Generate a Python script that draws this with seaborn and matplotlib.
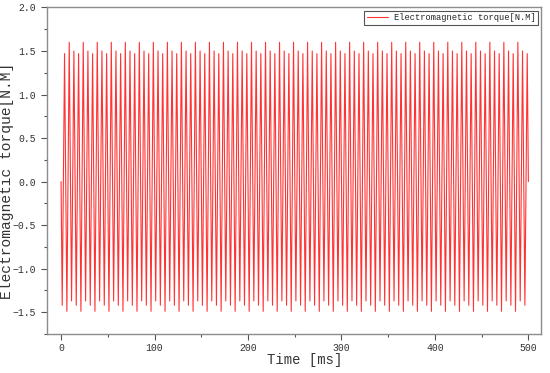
import numpy as np
import pandas as pd
import seaborn as sns
import matplotlib.pyplot as plt
from matplotlib.ticker import MultipleLocator

# one trough and one peak per 5 ms cycle, 100 cycles over 0-500 ms
cycle_ms = 5.0
n_cycles = 100

trough_values = [
    -1.42, -1.49, -1.37, -1.42, -1.49, -1.37, -1.42, -1.49, -1.37, -1.42, -1.49, -1.37,
    -1.42, -1.49, -1.37, -1.42, -1.49, -1.37, -1.42, -1.49, -1.37, -1.42, -1.49, -1.37,
    -1.42, -1.49, -1.37, -1.42, -1.49, -1.37, -1.42, -1.49, -1.37, -1.42, -1.49, -1.37,
    -1.42, -1.49, -1.37, -1.42, -1.49, -1.37, -1.42, -1.49, -1.37, -1.42, -1.49, -1.37,
    -1.42, -1.49, -1.37, -1.42, -1.49, -1.37, -1.42, -1.49, -1.37, -1.42, -1.49, -1.37,
    -1.42, -1.49, -1.37, -1.42, -1.49, -1.37, -1.42, -1.49, -1.37, -1.42, -1.49, -1.37,
    -1.42, -1.49, -1.37, -1.42, -1.49, -1.37, -1.42, -1.49, -1.37, -1.42, -1.49, -1.37,
    -1.42, -1.49, -1.37, -1.42, -1.49, -1.37, -1.42, -1.49, -1.37, -1.42, -1.49, -1.37,
    -1.42, -1.49, -1.37, -1.42,
]
peak_values = [
    1.47, 1.60, 1.50, 1.47, 1.60, 1.50, 1.47, 1.60, 1.50, 1.47, 1.60, 1.50,
    1.47, 1.60, 1.50, 1.47, 1.60, 1.50, 1.47, 1.60, 1.50, 1.47, 1.60, 1.50,
    1.47, 1.60, 1.50, 1.47, 1.60, 1.50, 1.47, 1.60, 1.50, 1.47, 1.60, 1.50,
    1.47, 1.60, 1.50, 1.47, 1.60, 1.50, 1.47, 1.60, 1.50, 1.47, 1.60, 1.50,
    1.47, 1.60, 1.50, 1.47, 1.60, 1.50, 1.47, 1.60, 1.50, 1.47, 1.60, 1.50,
    1.47, 1.60, 1.50, 1.47, 1.60, 1.50, 1.47, 1.60, 1.50, 1.47, 1.60, 1.50,
    1.47, 1.60, 1.50, 1.47, 1.60, 1.50, 1.47, 1.60, 1.50, 1.47, 1.60, 1.50,
    1.47, 1.60, 1.50, 1.47, 1.60, 1.50, 1.47, 1.60, 1.50, 1.47, 1.60, 1.50,
    1.47, 1.60, 1.50, 1.47,
]
start_value = 0.0
end_value = 0.0

x_ticks = [0, 100, 200, 300, 400, 500]
y_ticks = [-1.5, -1.0, -0.5, 0.0, 0.5, 1.0, 1.5, 2.0]

# build the sampled torque trace
cycle_start = np.arange(n_cycles) * cycle_ms
t = [0.0]
v = [start_value]
for k in range(n_cycles):
    t += [cycle_start[k] + 0.25 * cycle_ms, cycle_start[k] + 0.75 * cycle_ms]
    v += [trough_values[k], peak_values[k]]
t.append(n_cycles * cycle_ms)
v.append(end_value)
df = pd.DataFrame({"time": t, "torque": v})

sns.set_theme(style="ticks")
plt.rcParams['font.family'] = ['Liberation Mono', 'DejaVu Sans']
plt.rcParams['axes.unicode_minus'] = True

fig, ax = plt.subplots(figsize=(5.5, 3.73), dpi=100)
fig.subplots_adjust(left=0.085, right=0.9845, top=0.980, bottom=0.1046)

sns.lineplot(data=df, x="time", y="torque", ax=ax, color="#ff3333",
             linewidth=0.8, estimator=None, sort=False,
             label="Electromagnetic torque[N.M]")

ax.set_xlim(-15.3, 514)
ax.set_ylim(-1.75, 2.0)
ax.set_xticks(x_ticks)
ax.set_yticks(y_ticks)
ax.set_yticklabels([f"{y:.1f}".replace("-", "\u2212") for y in y_ticks])
ax.xaxis.set_minor_locator(MultipleLocator(50))
ax.yaxis.set_minor_locator(MultipleLocator(0.25))

for s in ax.spines.values():
    s.set_color("#8c8c8c")
    s.set_linewidth(1.0)
ax.tick_params(which="major", direction="out", length=4, width=0.8,
               color="#555555", labelsize=7, labelcolor="#333333", pad=4)
ax.tick_params(axis="x", which="major", pad=2.5)
ax.tick_params(which="minor", direction="out", length=2.5, width=0.8,
               color="#555555")

ax.set_xlabel("Time [ms]", fontsize=10, color="#333333")
ax.set_ylabel("Electromagnetic torque[N.M]", fontsize=10.5, color="#333333")
ax.xaxis.set_label_coords(0.522, -0.058)
ax.yaxis.set_label_coords(-0.066, 0.468)

leg = ax.legend(loc="upper right", fontsize=6.3, frameon=True, fancybox=False,
                framealpha=1, edgecolor="#555555", borderpad=0.3,
                borderaxespad=0.35, handlelength=2.4, handletextpad=0.7)
leg.get_frame().set_linewidth(0.8)

fig.savefig("out.png", dpi=100)
